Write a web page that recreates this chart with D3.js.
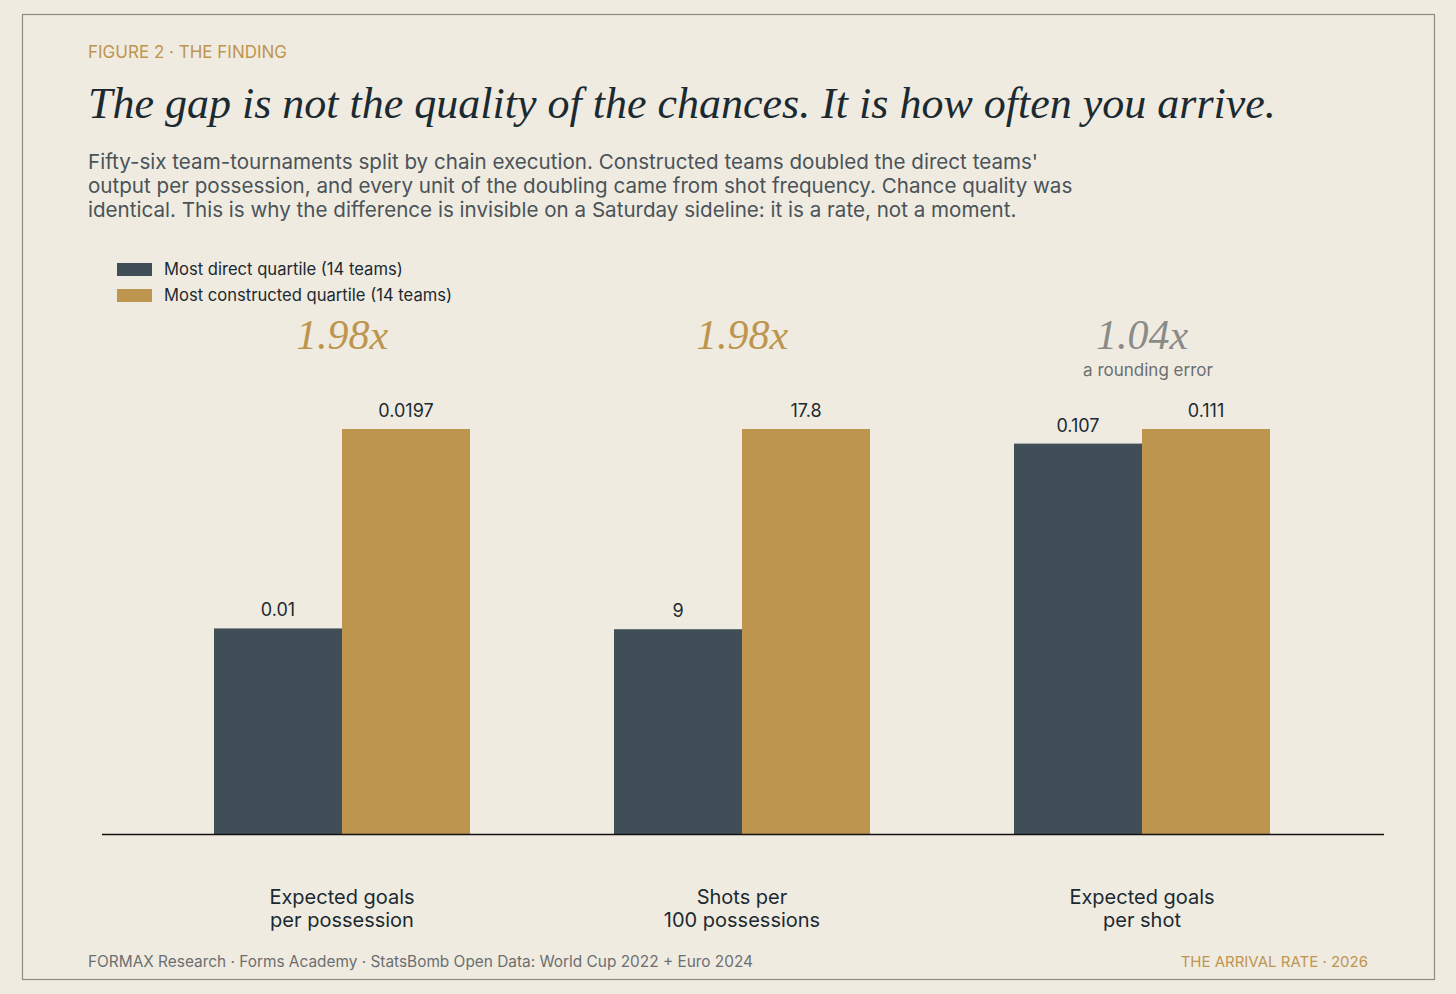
<!DOCTYPE html>
<html><head><meta charset="utf-8">
<script src="https://cdn.jsdelivr.net/npm/d3@7"></script>
<style>body{margin:0;background:#F0EBE1}svg{display:block}</style></head>
<body><svg id="c" width="1456" height="994"></svg>
<script>
const categories = [["Expected goals","per possession"],["Shots per","100 possessions"],["Expected goals","per shot"]];
const directValues = [0.01, 9, 0.107];
const constructedValues = [0.0197, 17.8, 0.111];
const directLabels = ["0.01","9","0.107"];
const constructedLabels = ["0.0197","17.8","0.111"];
const ratioLabels = ["1.98x","1.98x","1.04x"];
const ratioNotes = ["","","a rounding error"];
const seriesNames = ["Most direct quartile (14 teams)","Most constructed quartile (14 teams)"];

const C_DARK="#404F57", C_GOLD="#BE954F", BG="#F0EBE1", INK="#1B2A31";
const SANS="Inter, 'DejaVu Sans', sans-serif", SERIF="'Liberation Serif', 'DejaVu Serif', serif";
const svg=d3.select("#c");
svg.append("rect").attr("width",1456).attr("height",994).attr("fill",BG);
svg.append("rect").attr("x",22.5).attr("y",14.5).attr("width",1412).attr("height",965).attr("fill","none").attr("stroke","#8C8C86").attr("stroke-width",1.2);

svg.append("text").attr("x",88).attr("y",58).text("FIGURE 2 · THE FINDING").attr("fill",C_GOLD).attr("font-family",SANS).attr("font-size",17);
svg.append("text").attr("x",88).attr("y",118).text("The gap is not the quality of the chances. It is how often you arrive.")
  .attr("fill",INK).attr("font-family",SERIF).attr("font-style","italic").attr("font-size",44);
["Fifty-six team-tournaments split by chain execution. Constructed teams doubled the direct teams'",
 "output per possession, and every unit of the doubling came from shot frequency. Chance quality was",
 "identical. This is why the difference is invisible on a Saturday sideline: it is a rate, not a moment."]
 .forEach((t,i)=>svg.append("text").attr("x",88).attr("y",169+i*24).text(t).attr("fill","#4A5358").attr("font-family",SANS).attr("font-size",20.6));

seriesNames.forEach((n,i)=>{
  svg.append("rect").attr("x",117).attr("y",263+i*26).attr("width",35).attr("height",13).attr("fill",i?C_GOLD:C_DARK);
  svg.append("text").attr("x",164).attr("y",275+i*26).text(n).attr("fill",INK).attr("font-family",SANS).attr("font-size",16.6);
});

const x0=d3.scaleBand().domain(d3.range(3)).range([142,1342]).paddingInner(0.36).paddingOuter(0.18);
const x1=d3.scaleBand().domain([0,1]).range([0,x0.bandwidth()]);
const baseY=834, topY=429;
categories.forEach((cat,i)=>{
  const y=d3.scaleLinear().domain([0,Math.max(directValues[i],constructedValues[i])]).range([baseY,topY]);
  const g=svg.append("g").attr("transform",`translate(${x0(i)},0)`);
  [[directValues[i],directLabels[i],C_DARK],[constructedValues[i],constructedLabels[i],C_GOLD]].forEach(([v,l,c],j)=>{
    g.append("rect").attr("x",x1(j)).attr("y",y(v)).attr("width",x1.bandwidth()).attr("height",baseY-y(v)).attr("fill",c);
    g.append("text").attr("x",x1(j)+x1.bandwidth()/2).attr("y",y(v)-12).attr("text-anchor","middle").text(l)
      .attr("fill",INK).attr("font-family",SANS).attr("font-size",18);
  });
  const cx=x0(i)+x0.bandwidth()/2;
  svg.append("text").attr("x",cx).attr("y",349).attr("text-anchor","middle").text(ratioLabels[i])
    .attr("fill",i==2?"#8A8B88":C_GOLD).attr("font-family",SERIF).attr("font-style","italic").attr("font-size",42);
  if(ratioNotes[i]) svg.append("text").attr("x",cx+6).attr("y",376).attr("text-anchor","middle").text(ratioNotes[i])
    .attr("fill","#6B6F70").attr("font-family",SANS).attr("font-size",17);
  cat.forEach((t,k)=>svg.append("text").attr("x",cx).attr("y",904+k*23).attr("text-anchor","middle").text(t)
    .attr("fill",INK).attr("font-family",SANS).attr("font-size",20));
});
svg.append("line").attr("x1",102).attr("x2",1384).attr("y1",baseY+0.5).attr("y2",baseY+0.5).attr("stroke","#111").attr("stroke-width",1.3);

svg.append("text").attr("x",88).attr("y",967).text("FORMAX Research · Forms Academy · StatsBomb Open Data: World Cup 2022 + Euro 2024").attr("fill","#6B6F70").attr("font-family",SANS).attr("font-size",15.4);
svg.append("text").attr("x",1368).attr("y",967).attr("text-anchor","end").text("THE ARRIVAL RATE · 2026").attr("fill",C_GOLD).attr("font-family",SANS).attr("font-size",15);
</script></body></html>
